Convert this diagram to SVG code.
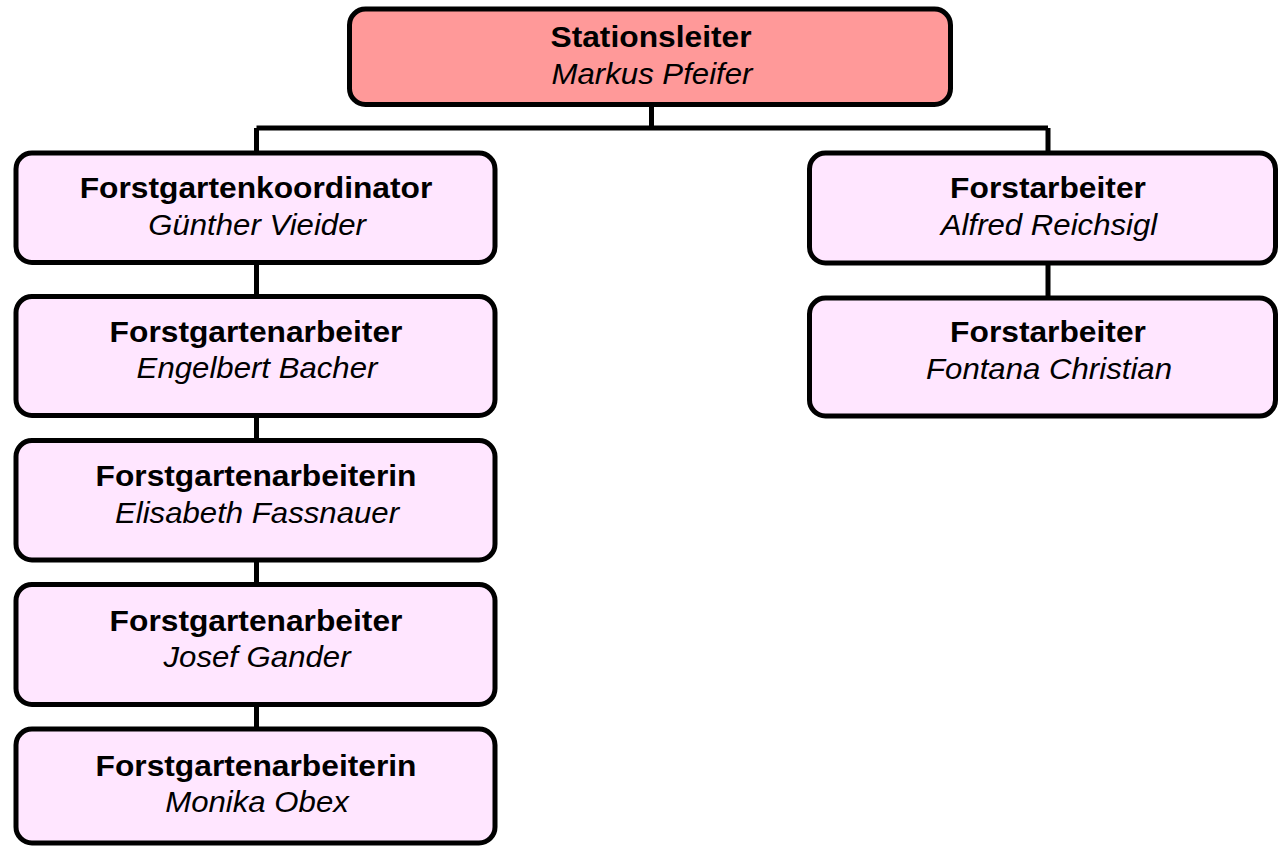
<svg xmlns="http://www.w3.org/2000/svg" width="1278" height="848" viewBox="0 0 1278 848">
<style>
.box{fill:#FFE6FF;stroke:#000;stroke-width:5}
.top{fill:#FF9999;stroke:#000;stroke-width:5}
.conn{stroke:#000;stroke-width:5;fill:none}
text{font-family:"Liberation Sans",Arial,sans-serif;font-size:29px;text-anchor:middle;fill:#000}
.t{font-weight:bold}
.n{font-style:italic}
</style>
<rect width="1278" height="848" fill="#fff"/>
<g id="connectors" class="conn">
<path d="M651.5 104 V128 M256.5 128 H1048 M256.5 128 V153 M256.5 262 V297 M256.5 415 V441 M256.5 560 V585 M256.5 704 V729 M1048 128 V153 M1048 263 V298"/>
</g>
<g id="stationsleiter">
<rect class="top" x="349.5" y="9" width="601" height="95.5" rx="16"/>
<text class="t" transform="translate(651 46.5) scale(1.095 1)">Stationsleiter</text>
<text class="n" transform="translate(652 83.5) scale(1.075 1)">Markus Pfeifer</text>
</g>
<g id="koordinator">
<rect class="box" x="16" y="153" width="479" height="109.5" rx="16"/>
<text class="t" transform="translate(256 197.5) scale(1.095 1)">Forstgartenkoordinator</text>
<text class="n" transform="translate(257 234.5) scale(1.075 1)">Günther Vieider</text>
</g>
<g id="bacher">
<rect class="box" x="16" y="296.5" width="479" height="119" rx="16"/>
<text class="t" transform="translate(256 341.5) scale(1.095 1)">Forstgartenarbeiter</text>
<text class="n" transform="translate(257 378) scale(1.075 1)">Engelbert Bacher</text>
</g>
<g id="fassnauer">
<rect class="box" x="16" y="440.5" width="479" height="119.5" rx="16"/>
<text class="t" transform="translate(256 486) scale(1.095 1)">Forstgartenarbeiterin</text>
<text class="n" transform="translate(257 522.5) scale(1.075 1)">Elisabeth Fassnauer</text>
</g>
<g id="gander">
<rect class="box" x="16" y="584.5" width="479" height="120" rx="16"/>
<text class="t" transform="translate(256 630.5) scale(1.095 1)">Forstgartenarbeiter</text>
<text class="n" transform="translate(257 667) scale(1.075 1)">Josef Gander</text>
</g>
<g id="obex">
<rect class="box" x="16" y="729" width="479" height="114" rx="16"/>
<text class="t" transform="translate(256 775.5) scale(1.095 1)">Forstgartenarbeiterin</text>
<text class="n" transform="translate(257 812) scale(1.075 1)">Monika Obex</text>
</g>
<g id="reichsigl">
<rect class="box" x="809.5" y="153" width="466" height="110" rx="16"/>
<text class="t" transform="translate(1048 197.5) scale(1.095 1)">Forstarbeiter</text>
<text class="n" transform="translate(1049 234.5) scale(1.075 1)">Alfred Reichsigl</text>
</g>
<g id="fontana">
<rect class="box" x="809.5" y="298" width="466" height="118" rx="16"/>
<text class="t" transform="translate(1048 342) scale(1.095 1)">Forstarbeiter</text>
<text class="n" transform="translate(1049 379) scale(1.075 1)">Fontana Christian</text>
</g>
</svg>
